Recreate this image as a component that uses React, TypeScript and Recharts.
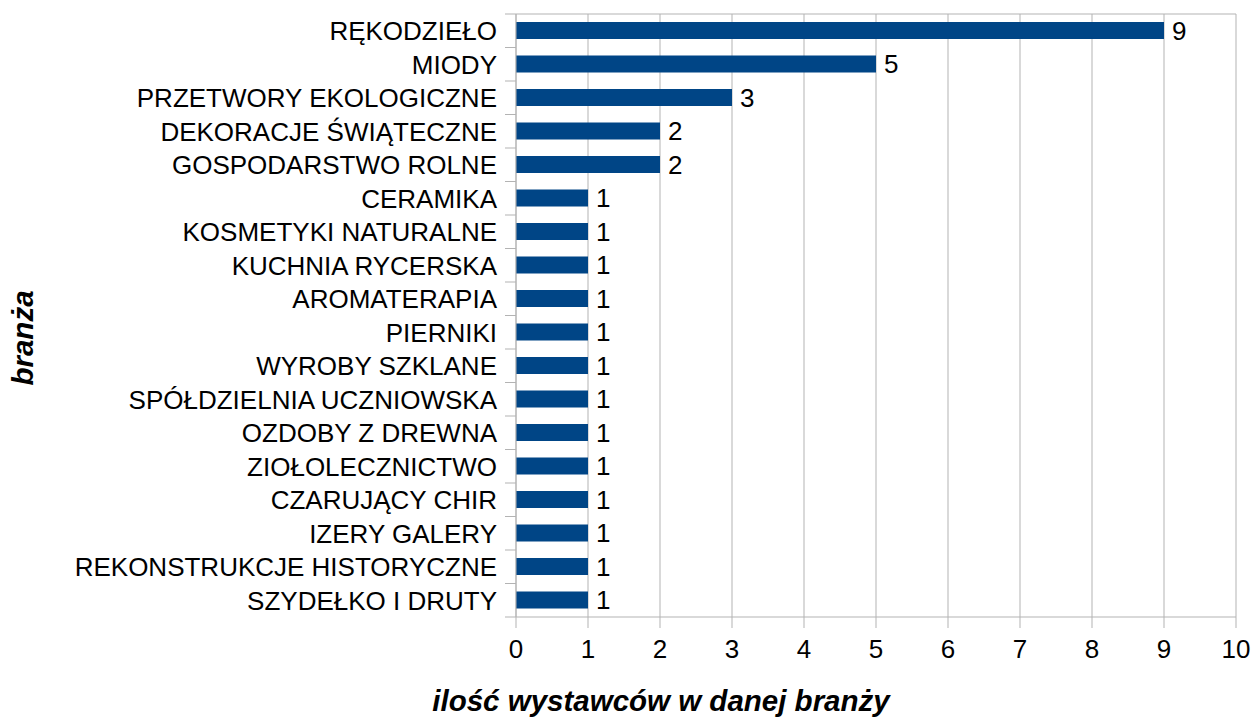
import React from 'react';
import { BarChart, Bar, XAxis, YAxis, CartesianGrid, LabelList } from 'recharts';

const categories = [
  'RĘKODZIEŁO',
  'MIODY',
  'PRZETWORY EKOLOGICZNE',
  'DEKORACJE ŚWIĄTECZNE',
  'GOSPODARSTWO ROLNE',
  'CERAMIKA',
  'KOSMETYKI NATURALNE',
  'KUCHNIA RYCERSKA',
  'AROMATERAPIA',
  'PIERNIKI',
  'WYROBY SZKLANE',
  'SPÓŁDZIELNIA UCZNIOWSKA',
  'OZDOBY Z DREWNA',
  'ZIOŁOLECZNICTWO',
  'CZARUJĄCY CHIR',
  'IZERY GALERY',
  'REKONSTRUKCJE HISTORYCZNE',
  'SZYDEŁKO I DRUTY',
];
const values = [9, 5, 3, 2, 2, 1, 1, 1, 1, 1, 1, 1, 1, 1, 1, 1, 1, 1];
const xTicks = [0, 1, 2, 3, 4, 5, 6, 7, 8, 9, 10];
const xTitle = 'ilość wystawców w danej branży';
const yTitle = 'branża';

const data = categories.map((c, i) => ({ name: c, value: values[i] }));

const FONT = '"Liberation Sans", Arial, sans-serif';
const GRID = '#b3b3b3';
const BAR = '#004586';
const FS = 26;
const TITLE_FS = 29.5;

const W = 1254;
const H = 718;
const MARGIN = { top: 14, right: 18, bottom: 41, left: 0 };
const Y_W = 516;
const X_H = 60;
const PLOT_H = H - MARGIN.top - MARGIN.bottom - X_H;
const BAND = PLOT_H / categories.length;

const YTick = (props: any) => {
  const { x, y, payload, index } = props;
  const axisX = x + 19;
  const isLast = index === categories.length - 1;
  return (
    <g>
      <line x1={axisX - 11} x2={axisX} y1={y - BAND / 2} y2={y - BAND / 2} stroke={GRID} strokeWidth={1} />
      {isLast && (
        <line x1={axisX - 11} x2={axisX} y1={y + BAND / 2} y2={y + BAND / 2} stroke={GRID} strokeWidth={1} />
      )}
      <text x={x} y={y} dy="0.36em" textAnchor="end" fontFamily={FONT} fontSize={FS} fill="#000">
        {payload.value}
      </text>
    </g>
  );
};

export default function App() {
  return (
    <div style={{ position: 'absolute', left: 0, top: 0, width: W, height: H, background: '#fff' }}>
      <BarChart
        width={W}
        height={H}
        data={data}
        layout="vertical"
        margin={MARGIN}
        barCategoryGap="24%"
      >
        <CartesianGrid
          stroke={GRID}
          horizontalCoordinatesGenerator={({ offset }: any) => [offset.top]}
        />
        <XAxis
          type="number"
          domain={[0, 10]}
          ticks={xTicks}
          interval={0}
          height={X_H}
          axisLine={{ stroke: GRID }}
          tickLine={{ stroke: GRID }}
          tickSize={11}
          tickMargin={12}
          tick={{ fontFamily: FONT, fontSize: FS, fill: '#000' }}
        />
        <YAxis
          type="category"
          dataKey="name"
          width={Y_W}
          interval={0}
          axisLine={{ stroke: GRID }}
          tickLine={false}
          tickSize={0}
          tickMargin={19}
          tick={<YTick />}
        />
        <Bar dataKey="value" fill={BAR} isAnimationActive={false}>
          <LabelList
            dataKey="value"
            position="right"
            offset={8}
            style={{ fontFamily: FONT, fontSize: FS, fill: '#000' }}
          />
        </Bar>
      </BarChart>
      <svg
        width={W}
        height={H}
        style={{ position: 'absolute', left: 0, top: 0, pointerEvents: 'none' }}
      >
        <text
          x={661}
          y={711}
          textAnchor="middle"
          fontFamily={FONT}
          fontSize={TITLE_FS}
          fontWeight="bold"
          fontStyle="italic"
          fill="#000"
        >
          {xTitle}
        </text>
        <text
          x={0}
          y={0}
          transform="translate(33 338) rotate(-90)"
          textAnchor="middle"
          fontFamily={FONT}
          fontSize={TITLE_FS}
          fontWeight="bold"
          fontStyle="italic"
          fill="#000"
        >
          {yTitle}
        </text>
      </svg>
    </div>
  );
}
